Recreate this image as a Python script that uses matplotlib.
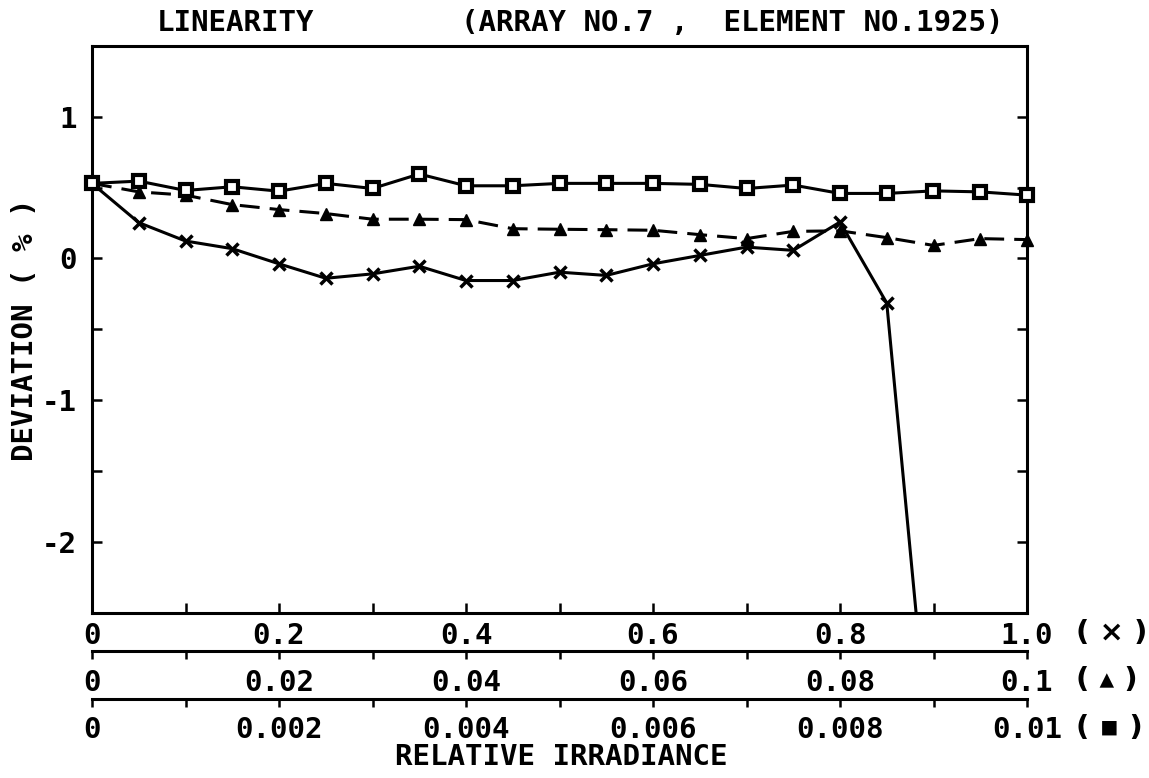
import matplotlib.pyplot as plt
from matplotlib.ticker import MultipleLocator, FixedLocator, FixedFormatter

plt.rcParams['font.family'] = ['DejaVu Sans Mono', 'DejaVu Sans']
plt.rcParams['font.weight'] = 'bold'
plt.rcParams['axes.unicode_minus'] = False

##### Data (deviation in %, three irradiance scales)
### x : 0 .. 1.0
irr_cross = [0.0, 0.05, 0.1, 0.15, 0.2, 0.25, 0.3, 0.35, 0.4, 0.45,
             0.5, 0.55, 0.6, 0.65, 0.7, 0.75, 0.8, 0.85, 0.9]
dev_cross = [0.53, 0.253, 0.123, 0.069, -0.038, -0.14, -0.109, -0.055, -0.156, -0.156,
             -0.097, -0.12, -0.038, 0.021, 0.08, 0.057, 0.257, -0.315, -3.8]

### triangle : 0 .. 0.1
irr_tri = [0.0, 0.005, 0.01, 0.015, 0.02, 0.025, 0.03, 0.035, 0.04, 0.045, 0.05,
           0.055, 0.06, 0.065, 0.07, 0.075, 0.08, 0.085, 0.09, 0.095, 0.1]
dev_tri = [0.53, 0.47, 0.447, 0.38, 0.345, 0.317, 0.277, 0.277, 0.274, 0.21, 0.206,
           0.203, 0.199, 0.168, 0.14, 0.191, 0.195, 0.147, 0.092, 0.14, 0.133]

### square : 0 .. 0.01
irr_sq = [0.0, 0.0005, 0.001, 0.0015, 0.002, 0.0025, 0.003, 0.0035, 0.004, 0.0045, 0.005,
          0.0055, 0.006, 0.0065, 0.007, 0.0075, 0.008, 0.0085, 0.009, 0.0095, 0.01]
dev_sq = [0.53, 0.546, 0.48, 0.506, 0.475, 0.53, 0.494, 0.596, 0.513, 0.513, 0.53,
          0.53, 0.53, 0.523, 0.494, 0.518, 0.459, 0.459, 0.477, 0.47, 0.447]

### tick labels
cross_ticks = [0, 0.2, 0.4, 0.6, 0.8, 1.0]
cross_labels = ["0", "0.2", "0.4", "0.6", "0.8", "1.0"]
tri_ticks = [0, 0.02, 0.04, 0.06, 0.08, 0.1]
tri_labels = ["0", "0.02", "0.04", "0.06", "0.08", "0.1"]
sq_ticks = [0, 0.002, 0.004, 0.006, 0.008, 0.01]
sq_labels = ["0", "0.002", "0.004", "0.006", "0.008", "0.01"]
y_ticks = [-2, -1, 0, 1]
y_labels = ["-2", "-1", "0", "1"]

FS = 21
LW = 2.2
W, H = 1149, 778

fig = plt.figure(figsize=(W / 100, H / 100), dpi=100)
ax = fig.add_axes([92 / W, 1 - 612.5 / H, 935 / W, 566.5 / H])

# x series on the main axis
ax.plot(irr_cross, dev_cross, color="black", lw=LW, marker="x", ms=8.5, mew=2.5, zorder=3)
ax.set_xlim(0, 1.0)
ax.set_ylim(-2.5, 1.5)

ax.xaxis.set_major_locator(FixedLocator(cross_ticks))
ax.xaxis.set_major_formatter(FixedFormatter(cross_labels))
ax.xaxis.set_minor_locator(MultipleLocator(0.1))
ax.yaxis.set_major_locator(FixedLocator(y_ticks))
ax.yaxis.set_major_formatter(FixedFormatter(y_labels))
ax.yaxis.set_minor_locator(MultipleLocator(0.5))
ax.tick_params(which="both", direction="in", top=True, right=True,
               length=10 * 0.72, width=1.8, labelsize=FS)
ax.tick_params(axis="x", pad=7)
ax.tick_params(axis="y", pad=11)
for s in ax.spines.values():
    s.set_linewidth(LW)


def extra_axis(xmax, offset, ticks, labels):
    a = ax.twiny()
    a.set_xlim(0, xmax)
    a.xaxis.set_ticks_position("bottom")
    a.xaxis.set_label_position("bottom")
    for k in ["top", "left", "right"]:
        a.spines[k].set_visible(False)
    a.spines["bottom"].set_position(("outward", offset))
    a.spines["bottom"].set_linewidth(LW)
    a.xaxis.set_major_locator(FixedLocator(ticks))
    a.xaxis.set_major_formatter(FixedFormatter(labels))
    a.xaxis.set_minor_locator(MultipleLocator(xmax / 10))
    a.tick_params(which="both", direction="out", length=8 * 0.72, width=1.8,
                  labelsize=FS, pad=7)
    return a


ax_tri = extra_axis(0.1, 28, tri_ticks, tri_labels)
ax_tri.plot(irr_tri, dev_tri, color="black", lw=LW, ls=(0, (6.5, 3.3)),
            marker="^", ms=8, zorder=3, clip_on=False)

ax_sq = extra_axis(0.01, 62, sq_ticks, sq_labels)
ax_sq.plot(irr_sq, dev_sq, color="black", lw=LW, marker="s", ms=8, mew=3,
           mfc="white", mec="black", zorder=4, clip_on=False)

### series suffixes next to the last tick labels
fig.text(1076 / W, 1 - 633 / H, "( × )", family="DejaVu Sans", fontsize=FS, ha="left", va="center")
fig.text(1076 / W, 1 - 680 / H, "( ▴ )", family="DejaVu Sans", fontsize=FS, ha="left", va="center")
fig.text(1076 / W, 1 - 728 / H, "( ▪ )", family="DejaVu Sans", fontsize=FS, ha="left", va="center")

### titles and axis labels
fig.text(236 / W, 1 - 23 / H, "LINEARITY", fontsize=FS, ha="center", va="center")
fig.text(732 / W, 1 - 23 / H, "(ARRAY NO.7 ,  ELEMENT NO.1925)", fontsize=FS, ha="center", va="center")
fig.text(561 / W, 1 - 757 / H, "RELATIVE IRRADIANCE", fontsize=FS, ha="center", va="center")
fig.text(25 / W, 1 - 330 / H, "DEVIATION ( % )", fontsize=FS, rotation=90, ha="center", va="center")

fig.savefig("out.png", dpi=100)
